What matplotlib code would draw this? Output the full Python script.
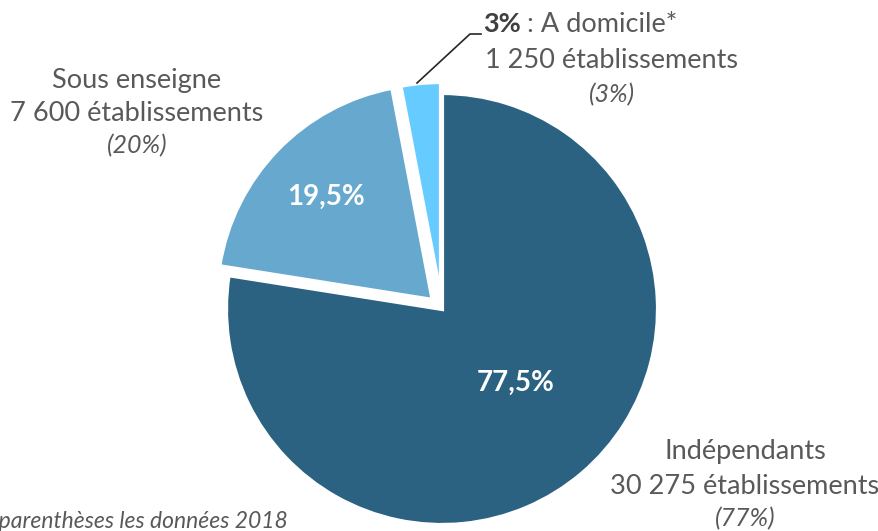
import matplotlib
matplotlib.use("Agg")
import matplotlib.pyplot as plt

categories = ["Indépendants", "Sous enseigne", "A domicile*"]
shares = [77.5, 19.5, 3.0]
share_labels = ["77,5%", "19,5%", "3%"]
counts = ["30 275 établissements", "7 600 établissements", "1 250 établissements"]
prev_shares = ["(77%)", "(20%)", "(3%)"]
footnote = "(Entre parenthèses les données 2018"

colors = ["#2B6282", "#67A8CE", "#66CCFF"]
gray = "#595959"
font = ["Lato", "DejaVu Sans"]

fig = plt.figure(figsize=(8.79, 5.31), dpi=100)
ax = fig.add_axes([0, 0, 1, 1])

cx, cy, r = 442, 222, 216
wedges, _ = ax.pie(shares, colors=colors, startangle=90, counterclock=False,
                   center=(cx, cy), radius=r, explode=[0, 13, 11],
                   wedgeprops=dict(edgecolor="white", linewidth=3))
for w in wedges:
    w.set_clip_on(False)

ax.set_xlim(0, 879)
ax.set_ylim(0, 531)
ax.set_aspect("equal")
ax.axis("off")

# inner percentage labels
ax.text(516, 531 - 383, share_labels[0], color="white", fontsize=20, fontweight="bold",
        ha="center", va="center", family=font)
ax.text(326, 531 - 197, share_labels[1], color="white", fontsize=20, fontweight="bold",
        ha="center", va="center", family=font)

fs = 19.5
fsi = 18
# Sous enseigne
ax.text(137, 531 - 80, categories[1], color=gray, fontsize=fs, ha="center", va="center", family=font)
ax.text(137, 531 - 113, counts[1], color=gray, fontsize=fs, ha="center", va="center", family=font)
ax.text(137, 531 - 146, prev_shares[1], color=gray, fontsize=fsi, style="italic",
        ha="center", va="center", family=font)

# Indépendants
ax.text(745, 531 - 451, categories[0], color=gray, fontsize=fs, ha="center", va="center", family=font)
ax.text(745, 531 - 487, counts[0], color=gray, fontsize=fs, ha="center", va="center", family=font)
ax.text(745, 531 - 519, prev_shares[0], color=gray, fontsize=fsi, style="italic",
        ha="center", va="center", family=font)

# A domicile
ax.text(483, 531 - 24, share_labels[2], color="#404040", fontsize=fs, fontweight="bold",
        ha="left", va="center", family=font)
ax.text(527, 531 - 24, ": " + categories[2], color=gray, fontsize=fs,
        ha="left", va="center", family=font)
ax.text(612, 531 - 60, counts[2], color=gray, fontsize=fs, ha="center", va="center", family=font)
ax.text(612, 531 - 95, prev_shares[2], color=gray, fontsize=fsi, style="italic",
        ha="center", va="center", family=font)
ax.plot([417, 470, 481], [531 - 83, 531 - 34, 531 - 34], color="#262626", linewidth=1.2,
        clip_on=False)

# footnote
ax.text(288, 531 - 521, footnote, color=gray, fontsize=16.5, style="italic",
        ha="right", va="center", family=font)

fig.savefig("out.png", dpi=100)
